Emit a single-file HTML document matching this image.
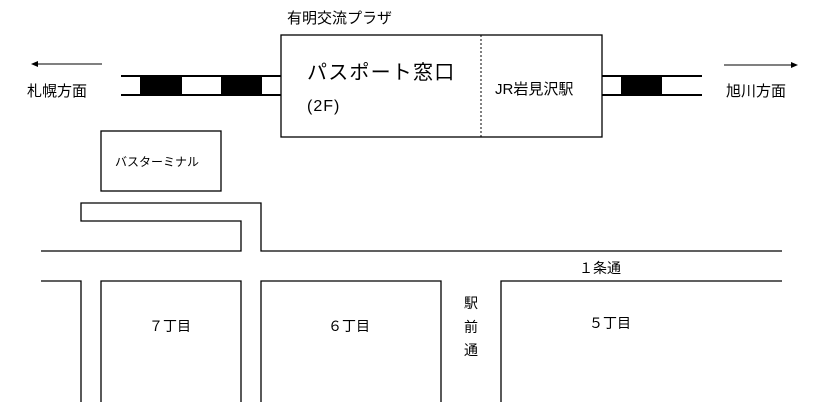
<!DOCTYPE html>
<html><head><meta charset="utf-8"><style>
body{margin:0;background:#fff;width:814px;height:413px;overflow:hidden}
svg text{font-family:"Liberation Sans","Noto Sans CJK JP",sans-serif;fill:#000}
</style></head><body>
<svg width="814" height="413" viewBox="0 0 814 413" xmlns="http://www.w3.org/2000/svg">
<g stroke="#000" stroke-width="1.5" fill="none">
<line x1="121" y1="76" x2="281" y2="76" stroke-width="2"/>
<line x1="121" y1="95" x2="281" y2="95" stroke-width="2"/>
<line x1="602" y1="76" x2="702" y2="76" stroke-width="2"/>
<line x1="602" y1="95" x2="702" y2="95" stroke-width="2"/>
<rect x="281" y="35" width="321" height="102" stroke-width="1.3"/>
<line x1="481" y1="35" x2="481" y2="137" stroke-width="1" stroke-dasharray="2,2"/>
<line x1="36" y1="64" x2="102" y2="64" stroke-width="1"/>
<line x1="724" y1="65" x2="792" y2="65" stroke-width="1"/>
<rect x="101" y="131" width="120" height="60" stroke-width="1.3"/>
<polyline points="41,251 241,251 241,221 81,221 81,203 261,203 261,251 782,251" stroke-width="1.3"/>
<polyline points="41,281 81,281 81,402" stroke-width="1.3"/>
<polyline points="101,402 101,281 241,281 241,402" stroke-width="1.3"/>
<polyline points="261,402 261,281 441,281 441,402" stroke-width="1.3"/>
<polyline points="501,402 501,281 782,281" stroke-width="1.3"/>
</g>
<rect x="140" y="76" width="42" height="19" fill="#000"/>
<rect x="221" y="76" width="41" height="19" fill="#000"/>
<rect x="621" y="76" width="41" height="19" fill="#000"/>
<polygon points="31,64 38,61 38,67" fill="#000"/>
<polygon points="798,65 791,62 791,68" fill="#000"/>
<text x="287" y="23" font-size="15">有明交流プラザ</text>
<text x="307" y="79" font-size="20" letter-spacing="1.2">パスポート窓口</text>
<text x="307" y="111" font-size="16" letter-spacing="1">(2F)</text>
<text x="495" y="94" font-size="15">JR岩見沢駅</text>
<text x="27" y="96" font-size="15">札幌方面</text>
<text x="726" y="96" font-size="15">旭川方面</text>
<text x="115" y="166" font-size="12">バスターミナル</text>
<text x="579" y="273" font-size="14">１条通</text>
<text x="149" y="331" font-size="14">７丁目</text>
<text x="328" y="331" font-size="14">６丁目</text>
<text x="589" y="328" font-size="14">５丁目</text>
<text x="464" y="308" font-size="14">駅</text>
<text x="464" y="332" font-size="14">前</text>
<text x="464" y="355" font-size="14">通</text>
</svg>
</body></html>
